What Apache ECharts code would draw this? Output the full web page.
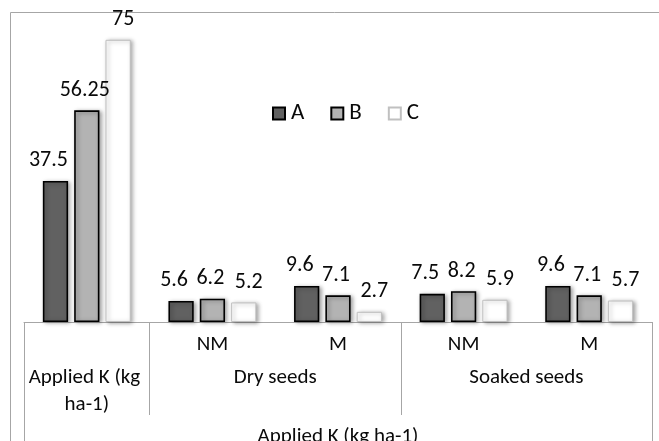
<!DOCTYPE html>
<html>
<head>
<meta charset="utf-8">
<script src="https://cdn.jsdelivr.net/npm/echarts@6/dist/echarts.min.js"></script>
<style>
html,body{margin:0;padding:0;background:#fff;}
#c{width:659px;height:441px;}
</style>
</head>
<body>
<div id="c"></div>
<script>
// ---- data ----
const categories = ['Applied K (kg ha-1)', 'Dry seeds NM', 'Dry seeds M', 'Soaked seeds NM', 'Soaked seeds M'];
const level1Labels = ['', 'NM', 'M', 'NM', 'M'];
const groupNames = ['Applied K (kg ha-1)', 'Dry seeds', 'Soaked seeds'];
const groupStarts = [0, 1, 3];
const groupEnds = [1, 3, 5];
const axisTitle = 'Applied K (kg ha-1)';
const seriesNames = ['A', 'B', 'C'];
const valuesA = [37.5, 5.6, 9.6, 7.5, 9.6];
const valuesB = [56.25, 6.2, 7.1, 8.2, 7.1];
const valuesC = [75, 5.2, 2.7, 5.9, 5.7];

// ---- styles ----
const FONT = 'Carlito, Lato, sans-serif';
const FS = 21;
const TXT = '#0a0a0a';
const GRAYLINE = '#a6a6a6';

const groupCenters = groupStarts.map((s, i) => (s + groupEnds[i]) / 2);
const groupTicks = groupStarts.slice(1);

function makeSeries(name, values, fill, border, bw, labelShift) {
  return {
    name: name,
    type: 'bar',
    data: values,
    barCategoryGap: '30%',
    barGap: '24%',
    itemStyle: {
      color: fill,
      borderColor: border,
      borderWidth: bw,
      shadowColor: 'rgba(0,0,0,0.35)',
      shadowBlur: 4,
      shadowOffsetX: 2,
      shadowOffsetY: 1
    },
    label: {
      show: true,
      position: 'top',
      distance: 9,
      offset: [labelShift, 0],
      color: TXT,
      fontFamily: FONT,
      fontSize: FS + 1
    }
  };
}

const chart = echarts.init(document.getElementById('c'), null, {renderer: 'canvas'});
chart.setOption({
  animation: false,
  backgroundColor: '#fff',
  textStyle: {fontFamily: FONT},
  graphic: [{
    type: 'polyline',
    shape: {points: [[10.5, 441], [10.5, 12.5], [659, 12.5]]},
    style: {stroke: GRAYLINE, lineWidth: 1, fill: null},
    silent: true
  }],
  legend: {
    data: seriesNames,
    left: 272,
    top: 102,
    padding: 0,
    itemWidth: 12,
    itemHeight: 12,
    itemGap: 26,
    icon: 'rect',
    textStyle: {fontFamily: FONT, fontSize: 23, color: TXT, padding: [0, 0, 0, 1]},
    itemStyle: {shadowBlur: 0, shadowOffsetX: 0, shadowOffsetY: 0}
  },
  grid: {left: 24, right: 7, top: 21, bottom: 119, containLabel: false, outerBoundsMode: 'none'},
  xAxis: [{
    type: 'category',
    data: categories,
    position: 'bottom',
    axisLine: {show: true, lineStyle: {color: GRAYLINE, width: 1}},
    axisTick: {show: false},
    axisLabel: {
      interval: 0,
      margin: 12,
      color: TXT,
      fontFamily: FONT,
      fontSize: FS,
      formatter: (v, i) => level1Labels[i]
    }
  }, {
    type: 'value',
    min: 0,
    max: categories.length,
    position: 'bottom',
    splitLine: {show: false},
    axisLine: {show: false},
    axisTick: {show: true, customValues: groupTicks, length: 93, lineStyle: {color: GRAYLINE}},
    axisLabel: {
      customValues: groupCenters,
      margin: 42,
      color: TXT,
      fontFamily: FONT,
      fontSize: FS,
      lineHeight: 27,
      width: 120,
      overflow: 'break',
      formatter: (v) => {
        const i = groupCenters.indexOf(v);
        return i >= 0 ? groupNames[i] : '';
      }
    }
  }, {
    type: 'value',
    min: 0,
    max: categories.length,
    position: 'bottom',
    splitLine: {show: false},
    axisLine: {show: false},
    axisTick: {show: true, customValues: [0, categories.length], length: 130, lineStyle: {color: GRAYLINE}},
    axisLabel: {show: false},
    name: axisTitle,
    nameLocation: 'middle',
    nameGap: 104,
    nameTextStyle: {color: TXT, fontFamily: FONT, fontSize: FS}
  }],
  yAxis: {
    type: 'value',
    min: 0,
    max: 80,
    show: false,
    splitLine: {show: false}
  },
  series: [
    makeSeries(seriesNames[0], valuesA, '#616161', '#000', 1.6, -7),
    makeSeries(seriesNames[1], valuesB, '#b3b3b3', '#000', 1.6, -2),
    makeSeries(seriesNames[2], valuesC, '#ffffff', '#c0c0c0', 1, 5)
  ]
});
</script>
</body>
</html>
